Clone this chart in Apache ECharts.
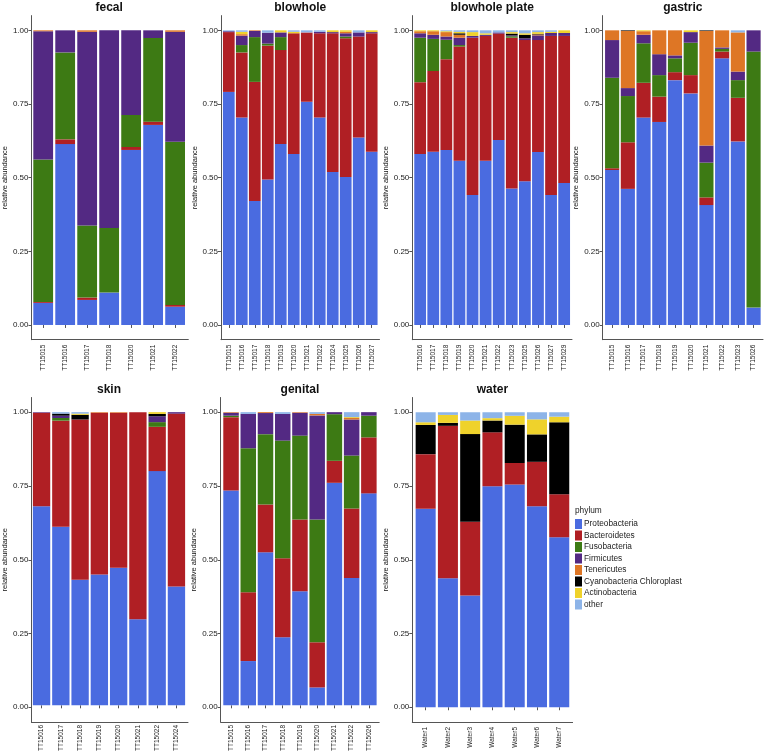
<!DOCTYPE html>
<html><head><meta charset="utf-8">
<script src="https://cdn.jsdelivr.net/npm/echarts@6/dist/echarts.min.js"></script>
<style>html,body{margin:0;padding:0;background:#fff}#c{width:765px;height:754px}</style>
</head><body><div id="c"></div><script>
const phyla = ['Proteobacteria','Bacteroidetes','Fusobacteria','Firmicutes','Tenericutes','Cyanobacteria Chloroplast','Actinobacteria','other'];
const phylumColors = ['#4a6be0','#b01f24','#3d7a14','#532983','#de7625','#000000','#efd22b','#8db4e8'];
const yTicks = [0, 0.25, 0.5, 0.75, 1];

// values: one row per phylum (order of `phyla`), one column per sample
const fecalSamples = ['TT15015','TT15016','TT15017','TT15018','TT15020','TT15021','TT15022'];
const fecalValues = [
  [0.075,0.614,0.085,0.110,0.594,0.679,0.062],
  [0.003,0.016,0.008,0,0.010,0.011,0.006],
  [0.484,0.295,0.245,0.219,0.109,0.284,0.554],
  [0.435,0.075,0.657,0.671,0.287,0.026,0.373],
  [0.003,0,0.005,0,0,0,0.005],
  [0,0,0,0,0,0,0],
  [0,0,0,0,0,0,0],
  [0,0,0,0,0,0,0]
];
const blowholeSamples = ['TT15015','TT15016','TT15017','TT15018','TT15019','TT15020','TT15021','TT15022','TT15024','TT15025','TT15026','TT15027'];
const blowholeValues = [
  [0.791,0.704,0.421,0.494,0.614,0.580,0.758,0.704,0.519,0.502,0.636,0.588],
  [0.203,0.221,0.404,0.454,0.319,0.410,0.235,0.286,0.471,0.471,0.343,0.402],
  [0,0.025,0.152,0.007,0.044,0,0,0,0,0.006,0,0],
  [0.003,0.032,0.021,0.037,0.016,0,0,0.005,0.004,0.011,0.014,0.004],
  [0,0.005,0.002,0,0,0,0,0,0,0.005,0,0],
  [0,0,0,0,0,0,0,0,0,0,0,0],
  [0,0.008,0,0,0.007,0.005,0,0,0.006,0.005,0,0.006],
  [0.003,0.005,0,0.008,0,0.005,0.007,0.005,0,0,0.007,0]
];
const platesSamples = ['TT15016','TT15017','TT15018','TT15019','TT15020','TT15021','TT15022','TT15023','TT15025','TT15026','TT15027','TT15029'];
const platesValues = [
  [0.580,0.588,0.594,0.557,0.441,0.557,0.628,0.463,0.488,0.587,0.441,0.482],
  [0.244,0.274,0.308,0.388,0.534,0.424,0.361,0.512,0.479,0.380,0.540,0.499],
  [0.151,0.109,0.066,0.005,0,0,0,0.005,0,0,0,0],
  [0.015,0.014,0.011,0.025,0.006,0.004,0.004,0.003,0.006,0.016,0.010,0.010],
  [0.007,0.012,0.015,0.010,0,0,0,0,0,0.003,0,0],
  [0,0,0,0.005,0,0,0,0.006,0.012,0.002,0,0],
  [0.003,0.003,0.003,0.005,0.013,0.005,0,0.005,0.005,0.006,0.004,0.009],
  [0,0,0.003,0.005,0.006,0.010,0.007,0.006,0.010,0.006,0.005,0]
];
const gastricSamples = ['TT15015','TT15016','TT15017','TT15018','TT15019','TT15020','TT15021','TT15022','TT15023','TT15026'];
const gastricValues = [
  [0.526,0.462,0.704,0.689,0.831,0.786,0.407,0.905,0.623,0.059],
  [0.006,0.158,0.118,0.086,0.027,0.062,0.026,0.023,0.148,0],
  [0.307,0.157,0.134,0.073,0.047,0.110,0.118,0.009,0.060,0.869],
  [0.128,0.027,0.029,0.071,0.010,0.036,0.058,0.005,0.029,0.072],
  [0.033,0.194,0.012,0.081,0.085,0,0.389,0.058,0.133,0],
  [0,0.002,0,0,0,0,0.002,0,0,0],
  [0,0,0.003,0,0,0.006,0,0,0,0],
  [0,0,0,0,0,0,0,0,0.007,0]
];
const skinSamples = ['TT15016','TT15017','TT15018','TT15019','TT15020','TT15021','TT15022','TT15024'];
const skinValues = [
  [0.679,0.609,0.428,0.446,0.469,0.294,0.799,0.405],
  [0.319,0.362,0.547,0.552,0.529,0.706,0.151,0.590],
  [0,0.009,0,0,0,0,0.016,0],
  [0.002,0.008,0,0,0,0,0.020,0.005],
  [0,0,0,0.002,0.002,0,0,0],
  [0,0.007,0.016,0,0,0,0.008,0],
  [0,0,0.004,0,0,0,0.006,0],
  [0,0.005,0.005,0,0,0,0,0]
];
const genitalSamples = ['TT15015','TT15016','TT15017','TT15018','TT15019','TT15020','TT15021','TT15022','TT15026'];
const genitalValues = [
  [0.733,0.151,0.522,0.232,0.389,0.061,0.759,0.434,0.723],
  [0.250,0.235,0.163,0.270,0.245,0.154,0.075,0.237,0.191],
  [0.005,0.491,0.240,0.401,0.286,0.419,0.159,0.181,0.074],
  [0.010,0.117,0.072,0.091,0.078,0.355,0.007,0.123,0.012],
  [0.002,0,0.003,0,0.002,0.005,0,0.005,0],
  [0,0,0,0,0,0,0,0,0],
  [0,0,0,0,0,0,0,0.003,0],
  [0,0.006,0,0.006,0,0.006,0,0.017,0]
];
const waterSamples = ['Water1','Water2','Water3','Water4','Water5','Water6','Water7'];
const waterValues = [
  [0.673,0.437,0.379,0.749,0.755,0.681,0.576],
  [0.185,0.517,0.250,0.183,0.073,0.151,0.146],
  [0,0,0,0,0,0,0],
  [0,0,0,0,0,0,0],
  [0,0,0,0,0,0,0],
  [0.099,0.010,0.297,0.040,0.130,0.093,0.244],
  [0.009,0.027,0.046,0.008,0.030,0.051,0.019],
  [0.034,0.009,0.028,0.020,0.012,0.024,0.015]
];

const FONT = 'Liberation Sans, Arial, sans-serif';
const panels = [
  {title:'fecal', samples:fecalSamples, values:fecalValues, L:30, R:188.3, T:15.6, B:339.7},
  {title:'blowhole', samples:blowholeSamples, values:blowholeValues, L:221, R:379.5, T:15.6, B:339.7},
  {title:'blowhole plate', samples:platesSamples, values:platesValues, L:412.3, R:572, T:15.6, B:339.7},
  {title:'gastric', samples:gastricSamples, values:gastricValues, L:602.7, R:763, T:15.6, B:339.7},
  {title:'skin', samples:skinSamples, values:skinValues, L:30, R:188, T:397.5, B:722},
  {title:'genital', samples:genitalSamples, values:genitalValues, L:220.7, R:379.2, T:397.5, B:722},
  {title:'water', samples:waterSamples, values:waterValues, L:412.3, R:572.6, T:397.5, B:722}
];
const axisLineStyle = {color:'#555', width:1};
const option = {
  animation:false,
  textStyle:{fontFamily:FONT},
  grid:[], xAxis:[], yAxis:[], series:[], title:[],
  legend:{
    orient:'vertical', left:575, top:519, itemWidth:7, itemHeight:10, itemGap:1.5,
    icon:'rect', selectedMode:false, padding:0,
    textStyle:{fontSize:8.3, color:'#222', fontFamily:FONT, padding:[0,0,0,-3]},
    data:phyla
  }
};
panels.forEach((p,i)=>{
  const W = p.R-p.L, H = p.B-p.T, n = p.samples.length, u = W/(n+0.2);
  option.grid.push({left:p.L, top:p.T, width:W, height:H});
  option.grid.push({left:p.L+0.1*u, top:p.T, width:n*u, height:H});
  option.xAxis.push({gridIndex:2*i, type:'value', min:0, max:1,
    axisLine:{show:true, onZero:false, lineStyle:axisLineStyle}, axisTick:{show:false}, axisLabel:{show:false}, splitLine:{show:false}});
  option.xAxis.push({gridIndex:2*i+1, type:'category', data:p.samples,
    axisLine:{show:false}, axisTick:{show:true, alignWithLabel:true, length:3, lineStyle:axisLineStyle},
    axisLabel:{rotate:90, fontSize:6.5, margin:5, color:'#222', fontFamily:FONT, interval:0}});
  option.yAxis.push({gridIndex:2*i, type:'value', min:-0.05, max:1.05,
    name:'relative abundance', nameLocation:'middle', nameGap:14.5,
    nameTextStyle:{fontSize:7.5, color:'#111', fontFamily:FONT},
    axisLine:{show:true, onZero:false, lineStyle:axisLineStyle},
    axisTick:{show:true, customValues:yTicks, length:3, lineStyle:axisLineStyle},
    axisLabel:{show:true, customValues:yTicks, formatter:v=>Number(v).toFixed(2), fontSize:8, margin:3, color:'#222', fontFamily:FONT},
    splitLine:{show:false}});
  option.yAxis.push({gridIndex:2*i+1, type:'value', min:-0.05, max:1.05, show:false, splitLine:{show:false}});
  phyla.forEach((ph,k)=>{
    option.series.push({type:'bar', name:ph, xAxisIndex:2*i+1, yAxisIndex:2*i+1, stack:'s'+i,
      data:p.values[k], barCategoryGap:'10%', itemStyle:{color:phylumColors[k]}});
  });
  option.title.push({text:p.title, left:(p.L+p.R)/2, top:p.T-13.5, textAlign:'center', padding:0,
    textStyle:{fontSize:12, fontWeight:'bold', color:'#111', fontFamily:FONT}});
});
option.title.push({text:'phylum', left:575, top:507, padding:0,
  textStyle:{fontSize:8.3, fontWeight:'normal', color:'#222', fontFamily:FONT}});
const chart = echarts.init(document.getElementById('c'), null, {renderer:'canvas'});
chart.setOption(option);
</script></body></html>
